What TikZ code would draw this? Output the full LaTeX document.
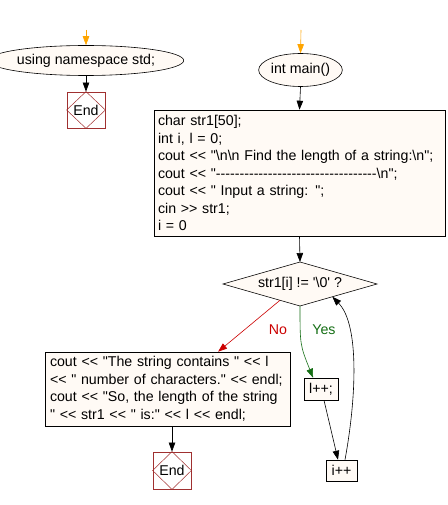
\documentclass[tikz,border=0pt]{standalone}
\usepackage{fontspec}
\setmainfont{Liberation Sans}[Ligatures=TeXOff]
\usetikzlibrary{arrows.meta,shapes.geometric,calc}
\definecolor{cream}{RGB}{255,250,245}
\definecolor{endred}{RGB}{160,48,48}
\definecolor{dred}{RGB}{204,0,0}
\definecolor{dgreen}{RGB}{20,110,20}
\definecolor{orng}{RGB}{255,165,0}
\begin{document}
\begin{tikzpicture}[x=1pt,y=-1pt,
  every node/.style={font=\fontsize{14.2pt}{17.5pt}\selectfont},
  oval/.style={ellipse,draw=black,fill=cream,inner sep=0pt,line width=0.6pt},
  procbox/.style={rectangle,draw=black,fill=cream,line width=0.6pt,align=left,inner sep=0pt},
  endbox/.style={rectangle,draw=endred,fill=white,line width=0.8pt,minimum width=38pt,minimum height=36pt,inner sep=0pt},
  arr/.style={-{Triangle[length=9pt,width=6.5pt]},line width=0.6pt},
  plain/.style={inner sep=0pt}]
\useasboundingbox (0,0) rectangle (447,505);
\fill[white] (0,0) rectangle (447,505);

% left column
\coordinate (s1) at (86,30);
\node[oval,minimum width=162pt,minimum height=30pt] (e1) at (86,60.5) {using namespace std;};
\node[endbox] (end1) at (86,110) {};
\draw[endred,line width=0.5pt] (end1.north)--(end1.east)--(end1.south)--(end1.west)--cycle;
\node[plain] at (end1.center) {End};
\draw[arr,orng] (s1) -- (e1.north);
\draw[arr] (e1.south) -- (end1.north);

% right column
\coordinate (s2) at (301,30);
\node[oval,minimum width=81pt,minimum height=33pt] (e2) at (300.5,70) {int main()};
\draw[arr,orng] (s2) -- (e2.north);

\node[procbox,minimum width=291pt,minimum height=126pt,text width=283pt] (main) at (299.5,173)
 {char str1[50];\\
  int i, l = 0;\\
  cout << "\textbackslash n\textbackslash n Find the length of a string:\textbackslash n";\\
  cout << "----------------------------------\textbackslash n";\\
  cout << " Input a string: ";\\
  cin >> str1;\\
  i = 0};
\draw[arr] (e2.south) -- (main.north);

% diamond
\coordinate (dtop) at (300,262);
\coordinate (dright) at (377,284);
\coordinate (dbot) at (300,306);
\coordinate (dleft) at (223,284);
\draw[fill=cream,line width=0.6pt] (dtop)--(dright)--(dbot)--(dleft)--cycle;
\node[plain] (dtext) at (300,284) {str1[i] != '\textbackslash 0' ?};
\draw[arr] (main.south) -- (dtop);

% left box
\node[procbox,minimum width=245pt,minimum height=74pt,text width=235pt] (lbox) at (167.5,389)
 {cout << "The string contains " << l\\
  << " number of characters." << endl;\\
  cout << "So, the length of the string\\
  " << str1 << " is:" << l << endl;};
\coordinate (nostart) at ($(dleft)!0.74!(dbot)$);
\coordinate (noend) at ($(lbox.north west)!0.706!(lbox.north east)$);
\draw[arr,dred] (nostart) -- (noend);
\node[plain,text=dred] (nolab) at (278,330) {No};

\node[endbox,minimum height=37pt] (end2) at (172,470.5) {};
\draw[endred,line width=0.5pt] (end2.north)--(end2.east)--(end2.south)--(end2.west)--cycle;
\node[plain] at (end2.center) {End};
\draw[arr] (lbox.south -| end2.north) -- (end2.north);

% loop body
\node[procbox,minimum width=34pt,minimum height=22pt,align=center] (lpp) at (321,389) {l++;};
\node[procbox,minimum width=31pt,minimum height=21pt,align=center] (ipp) at (341.5,470.5) {i++};
\coordinate (yesend) at ($(lpp.north west)!0.27!(lpp.north east)$);
\draw[arr,dgreen] (dbot) .. controls (300,345) .. (yesend);
\node[plain,text=dgreen] (yeslab) at (324,330) {Yes};

\coordinate (lppout) at ($(lpp.south)+(3,0)$);
\coordinate (ippin) at ($(ipp.north)+(-3.5,0)$);
\draw[arr] (lppout) -- (ippin);

\coordinate (ippout) at ($(ipp.north)+(3.5,0)$);
\coordinate (backend) at ($(dright)!0.58!(dbot)$);
\draw[arr] (ippout) .. controls (356,400) and (360,325) .. (backend);
\end{tikzpicture}
\end{document}
